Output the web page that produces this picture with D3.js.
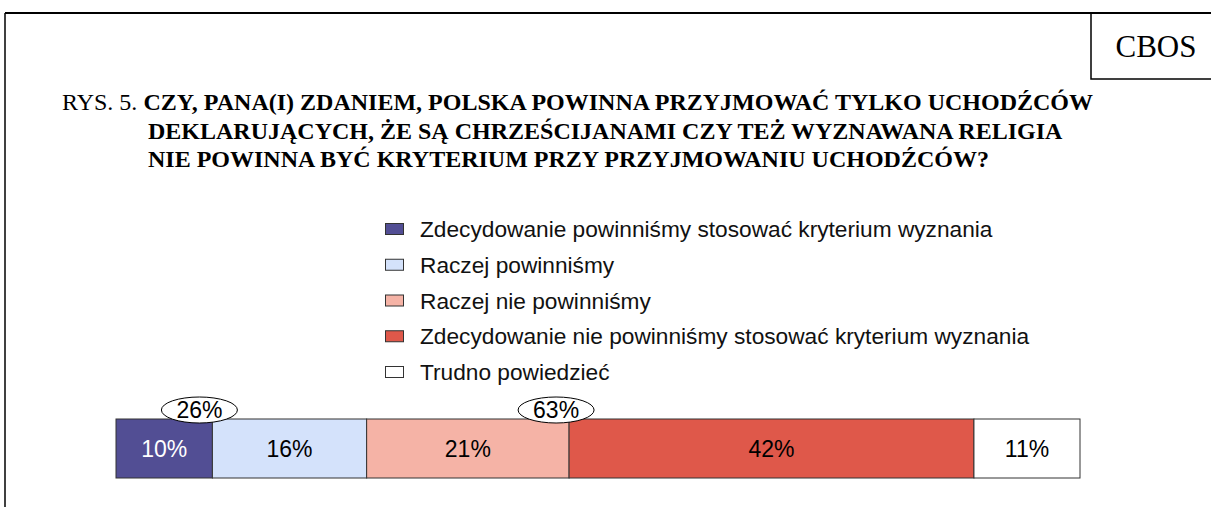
<!DOCTYPE html>
<html lang="pl">
  <head>
    <meta charset="utf-8">
    <title>CBOS RYS. 5</title>
    <script src="https://cdn.jsdelivr.net/npm/d3@7/dist/d3.min.js"></script>
    <style>
      body { margin: 0; background: #fff; }
    </style>
  </head>
  <body>
    <div id="chart"></div>
    <script>
      // answer categories and shares (%)
      const categories = [
          "Zdecydowanie powinniśmy stosować kryterium wyznania",
          "Raczej powinniśmy",
          "Raczej nie powinniśmy",
          "Zdecydowanie nie powinniśmy stosować kryterium wyznania",
          "Trudno powiedzieć"
      ];
      const values = [10, 16, 21, 42, 11];
      const colors = ["#524e94", "#d4e2fb", "#f5b3a6", "#df584a", "#ffffff"];
      const labelColors = ["#ffffff", "#000", "#000", "#000", "#000"];
      // summed labels: [segment boundary index, text]
      const sums = [[1, "26%"], [3, "63%"]];

      const titleLines = [
          "CZY, PANA(I) ZDANIEM, POLSKA POWINNA PRZYJMOWAĆ TYLKO UCHODŹCÓW",
          "DEKLARUJĄCYCH, ŻE SĄ CHRZEŚCIJANAMI CZY TEŻ WYZNAWANA RELIGIA",
          "NIE POWINNA BYĆ KRYTERIUM PRZY PRZYJMOWANIU UCHODŹCÓW?"
      ];

      const W = 1211, H = 507;
      const serif = "'Liberation Serif', 'Times New Roman', serif";
      const sans = "'Liberation Sans', Arial, sans-serif";

      const svg = d3.select("#chart").append("svg")
          .attr("width", W).attr("height", H);

      // frame
      svg.append("line").attr("x1", 5).attr("x2", W).attr("y1", 13).attr("y2", 13)
          .attr("stroke", "#000").attr("stroke-width", 2);
      svg.append("line").attr("x1", 5).attr("x2", 5).attr("y1", 13).attr("y2", H)
          .attr("stroke", "#000").attr("stroke-width", 1.5);
      svg.append("rect").attr("x", 1091).attr("y", 13).attr("width", 130).attr("height", 66)
          .attr("fill", "none").attr("stroke", "#000").attr("stroke-width", 1.5);
      svg.append("text").attr("x", 1156).attr("y", 57)
          .attr("text-anchor", "middle")
          .style("font-family", serif)
          .style("font-size", "31px")
          .text("CBOS");

      // title
      const t = svg.append("text")
          .style("font-family", serif)
          .style("font-size", "24px");
      t.append("tspan").attr("x", 62).attr("y", 110).text("RYS. 5. ");
      t.append("tspan").style("font-weight", "bold").text(titleLines[0]);
      titleLines.slice(1).forEach((line, i) => {
          svg.append("text").attr("x", 148).attr("y", 138.5 + i * 28.5)
              .style("font-family", serif)
              .style("font-size", "24px")
              .style("font-weight", "bold")
              .text(line);
      });

      // legend
      const legendY = d3.scalePoint().domain(categories).range([229, 372]);
      const items = svg.append("g").selectAll("g").data(categories).join("g")
          .attr("transform", d => `translate(385, ${legendY(d)})`);
      items.append("rect")
          .attr("x", 0.5).attr("y", -5.5).attr("width", 18).attr("height", 11)
          .attr("fill", (d, i) => colors[i])
          .attr("stroke", "#333").attr("stroke-width", 1);
      items.append("text")
          .attr("x", 35).attr("y", 0).attr("dy", "0.36em")
          .style("font-family", sans)
          .style("font-size", "22.7px")
          .attr("fill", "#111")
          .text(d => d);

      // stacked bar
      const x = d3.scaleLinear().domain([0, d3.sum(values)]).range([116, 1080]);
      const y0 = 419, bh = 59;
      const segs = values.map((v, i) => {
          const s = d3.sum(values.slice(0, i));
          return { v, i, s, e: s + v };
      });

      svg.selectAll("rect.seg").data(segs).join("rect")
          .attr("class", "seg")
          .attr("x", d => x(d.s)).attr("y", y0)
          .attr("width", d => x(d.e) - x(d.s)).attr("height", bh)
          .attr("fill", d => colors[d.i])
          .attr("stroke", "#333").attr("stroke-width", 1);

      svg.selectAll("text.seg").data(segs).join("text")
          .attr("class", "seg")
          .attr("x", d => (x(d.s) + x(d.e)) / 2)
          .attr("y", y0 + bh / 2).attr("dy", "0.36em")
          .attr("text-anchor", "middle")
          .style("font-family", sans)
          .style("font-size", "23px")
          .attr("fill", d => labelColors[d.i])
          .text(d => d.v + "%");

      // summed ellipses
      const sg = svg.selectAll("g.sum").data(sums).join("g")
          .attr("class", "sum")
          .attr("transform", d => `translate(${x(d3.sum(values.slice(0, d[0]))) - 13}, 410)`);
      sg.append("ellipse").attr("rx", 38).attr("ry", 13)
          .attr("fill", "#fff").attr("stroke", "#000").attr("stroke-width", 1);
      sg.append("text").attr("text-anchor", "middle").attr("dy", "0.36em")
          .style("font-family", sans)
          .style("font-size", "23px")
          .text(d => d[1]);
    </script>
  </body>
</html>
